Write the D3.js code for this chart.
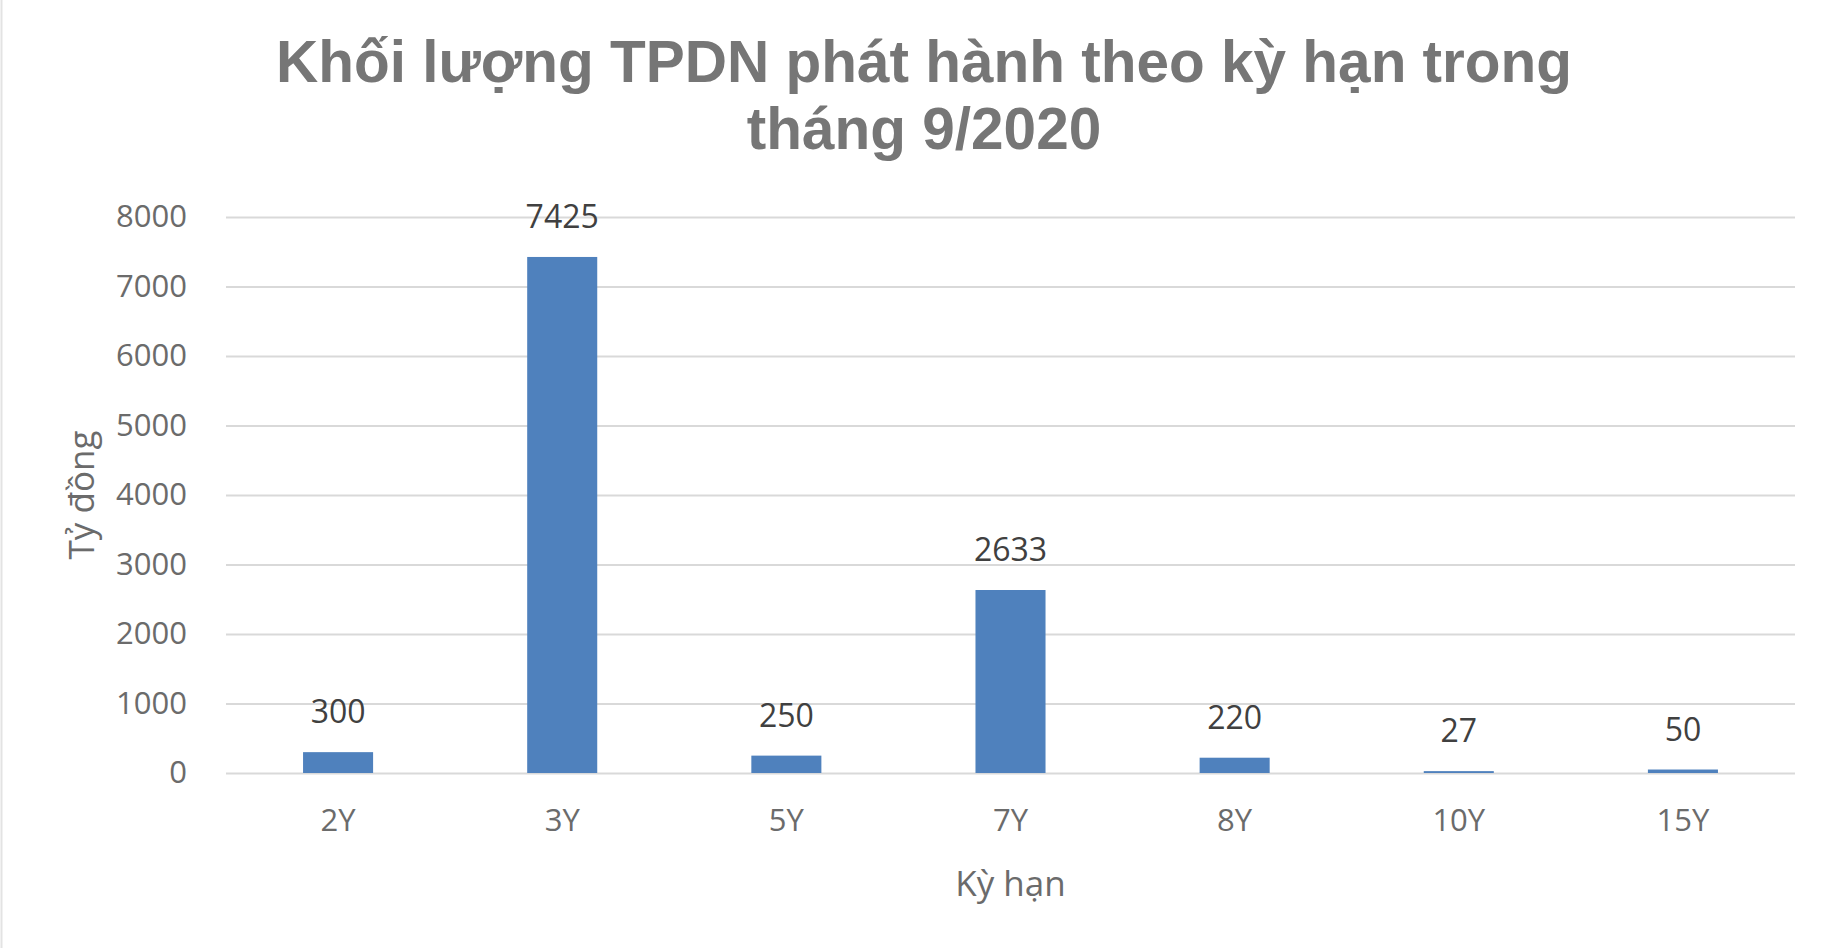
<!DOCTYPE html>
<html>
<head>
<meta charset="utf-8">
<script src="https://cdnjs.cloudflare.com/ajax/libs/d3/7.8.5/d3.min.js"></script>
<style>
  body { margin: 0; background: #fff; }
  svg { display: block; }
</style>
</head>
<body>
<div id="chart"></div>
<script>
// chart data
var terms = ["2Y", "3Y", "5Y", "7Y", "8Y", "10Y", "15Y"];
var volumes = [300, 7425, 250, 2633, 220, 27, 50];
var yTicks = [0, 1000, 2000, 3000, 4000, 5000, 6000, 7000, 8000];
var titleLines = ["Khối lượng TPDN phát hành theo kỳ hạn trong", "tháng 9/2020"];

var svgWidth = 1824;
var svgHeight = 948;

var margin = { top: 217, right: 29, bottom: 175, left: 226 };
var width = svgWidth - margin.left - margin.right;
var height = svgHeight - margin.top - margin.bottom;

var svg = d3.select("#chart")
  .append("svg")
  .attr("width", svgWidth)
  .attr("height", svgHeight);

// faint chart border on the left edge
svg.append("line")
  .attr("x1", 1.5).attr("x2", 1.5)
  .attr("y1", 0).attr("y2", svgHeight)
  .attr("stroke", "#e3e3e3")
  .attr("stroke-width", 2);

// title
svg.append("g")
  .selectAll("text")
  .data(titleLines)
  .enter()
  .append("text")
  .attr("x", 924)
  .attr("y", (d, i) => 82 + i * 67)
  .attr("text-anchor", "middle")
  .attr("font-family", "'Liberation Sans', Arial, sans-serif")
  .attr("font-weight", "bold")
  .attr("font-size", 58.5)
  .attr("fill", "#767676")
  .text(d => d);

var chartGroup = svg.append("g")
  .attr("transform", `translate(${margin.left}, ${margin.top})`);

var xScale = d3.scaleBand()
  .domain(terms)
  .range([0, width])
  .paddingInner(0.6875)
  .paddingOuter(0.34375);

var yScale = d3.scaleLinear()
  .domain([0, 8000])
  .range([height, 0]);

// gridlines
var grid = chartGroup.append("g")
  .call(d3.axisLeft(yScale).tickValues(yTicks).tickSize(-width).tickFormat(""));
grid.select(".domain").remove();
grid.selectAll("line")
  .attr("stroke", "#d9d9d9")
  .attr("stroke-width", 2);

// y axis labels
var yAxis = chartGroup.append("g")
  .call(d3.axisLeft(yScale).tickValues(yTicks).tickSize(0).tickPadding(39).tickFormat(d3.format("d")));
yAxis.select(".domain").remove();
yAxis.selectAll("text")
  .attr("font-family", "'Open Sans', 'Noto Sans', sans-serif")
  .attr("font-size", 31)
  .attr("fill", "#6b6b6b");

// x axis labels
var xAxis = chartGroup.append("g")
  .attr("transform", `translate(0, ${height})`)
  .call(d3.axisBottom(xScale).tickSize(0).tickPadding(36));
xAxis.select(".domain").remove();
xAxis.selectAll("text")
  .attr("font-family", "'Open Sans', 'Noto Sans', sans-serif")
  .attr("font-size", 31)
  .attr("fill", "#6b6b6b");

// bars
chartGroup.selectAll(".bar")
  .data(volumes)
  .enter()
  .append("rect")
  .attr("class", "bar")
  .attr("x", (d, i) => xScale(terms[i]))
  .attr("y", d => yScale(d))
  .attr("width", xScale.bandwidth())
  .attr("height", d => height - yScale(d))
  .attr("fill", "#4f81bd");

// value labels
chartGroup.selectAll(".label")
  .data(volumes)
  .enter()
  .append("text")
  .attr("class", "label")
  .attr("x", (d, i) => xScale(terms[i]) + xScale.bandwidth() / 2)
  .attr("y", d => yScale(d) - 40)
  .attr("dy", "0.35em")
  .attr("text-anchor", "middle")
  .attr("font-family", "'Open Sans', 'Noto Sans', sans-serif")
  .attr("font-size", 32)
  .attr("fill", "#404040")
  .text(d => d);

// axis titles
svg.append("text")
  .attr("transform", `translate(82, ${margin.top + height / 2}) rotate(-90)`)
  .attr("text-anchor", "middle")
  .attr("dy", "0.35em")
  .attr("font-family", "'Open Sans', 'Noto Sans', sans-serif")
  .attr("font-size", 35)
  .attr("fill", "#6b6b6b")
  .text("Tỷ đồng");

svg.append("text")
  .attr("x", margin.left + width / 2)
  .attr("y", 884)
  .attr("text-anchor", "middle")
  .attr("dy", "0.35em")
  .attr("font-family", "'Open Sans', 'Noto Sans', sans-serif")
  .attr("font-size", 35)
  .attr("fill", "#6b6b6b")
  .text("Kỳ hạn");
</script>
</body>
</html>
